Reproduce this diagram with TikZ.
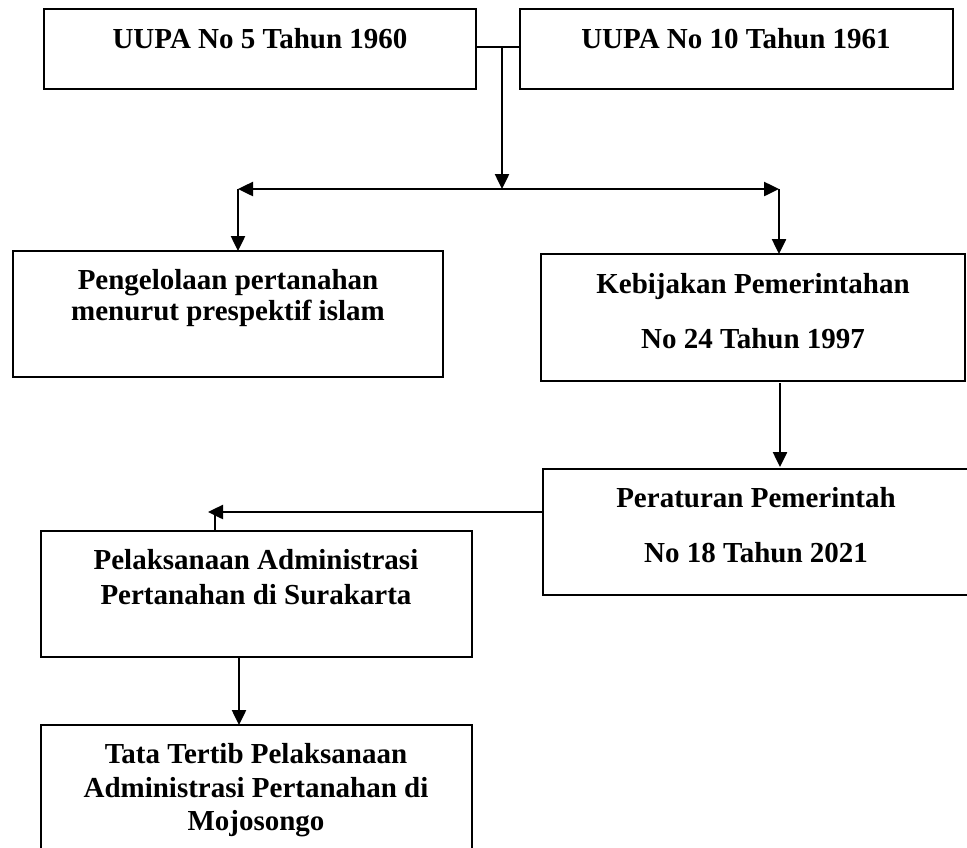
\documentclass[tikz,border=0pt]{standalone}
\usepackage{fontspec}
\setmainfont{Liberation Serif}
\usetikzlibrary{arrows.meta}
\begin{document}
\begin{tikzpicture}[x=1pt,y=-1pt,
  box/.style={draw, line width=2pt, rectangle, inner sep=0pt, outer sep=0pt, anchor=north west},
  lbl/.style={font=\fontsize{29}{33}\selectfont\bfseries, inner sep=0pt, anchor=base},
  conn/.style={line width=2.5pt},
  arr/.style={line width=2.5pt, -{Triangle[length=15pt,width=14pt]}},
  darr/.style={line width=2.5pt, {Triangle[length=15pt,width=14pt]}-{Triangle[length=15pt,width=14pt]}}]
\clip (0,0) rectangle (967,847);
\fill[white] (0,0) rectangle (967,847);
% boxes
\node[box, minimum width=432pt, minimum height=80pt] (a) at (44,9) {};
\node[box, minimum width=433pt, minimum height=80pt] (b) at (520,9) {};
\node[box, minimum width=430pt, minimum height=126pt] (c) at (13,251) {};
\node[box, minimum width=424pt, minimum height=127pt] (d) at (541,254) {};
\node[box, minimum width=430pt, minimum height=126pt] (e) at (543,469) {};
\node[box, minimum width=431pt, minimum height=126pt] (f) at (41,531) {};
\node[box, minimum width=431pt, minimum height=140pt] (g) at (41,725) {};
% texts
\node[lbl] (ta) at (260,48) {UUPA No 5 Tahun 1960};
\node[lbl] (tb) at (736,48) {UUPA No 10 Tahun 1961};
\node[lbl] (tc1) at (228,289) {Pengelolaan pertanahan};
\node[lbl] (tc2) at (228,320) {menurut prespektif islam};
\node[lbl] (td1) at (753,293) {Kebijakan Pemerintahan};
\node[lbl] (td2) at (753,348) {No 24 Tahun 1997};
\node[lbl] (te1) at (756,507) {Peraturan Pemerintah};
\node[lbl] (te2) at (756,562) {No 18 Tahun 2021};
\node[lbl] (tf1) at (256,569) {Pelaksanaan Administrasi};
\node[lbl] (tf2) at (256,604) {Pertanahan di Surakarta};
\node[lbl] (tg1) at (256,763) {Tata Tertib Pelaksanaan};
\node[lbl] (tg2) at (256,797) {Administrasi Pertanahan di};
\node[lbl] (tg3) at (256,830) {Mojosongo};
% junction coordinates
\coordinate (j1) at (502,47);
\coordinate (j2) at (502,189);
\coordinate (l1) at (238,189);
\coordinate (r1) at (779,189);
\coordinate (d1) at (780,400);
\coordinate (s1) at (215,512);
\coordinate (tip) at (208,512);
\coordinate (g1) at (239,690);
% connectors
\draw[conn] (a.east |- j1) -- (b.west |- j1);
\draw[arr] (j1) -- (j2);
\draw[darr] (l1) -- (r1);
\draw[arr] (l1) -- (c.north -| l1);
\draw[arr] (r1) -- (d.north -| r1);
\draw[arr, shorten <=2pt, shorten >=2pt] (d.south -| d1) -- (e.north -| d1);
\draw[arr] (e.west |- s1) -- (tip);
\draw[conn] (s1) -- (f.north -| s1);
\draw[arr] (f.south -| g1) -- (g.north -| g1);
\end{tikzpicture}
\end{document}
